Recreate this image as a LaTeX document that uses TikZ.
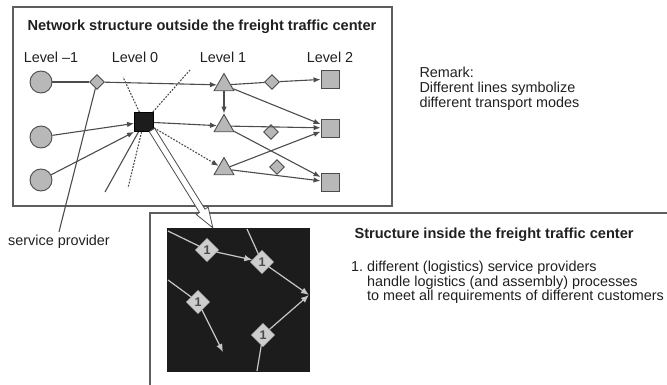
\documentclass[tikz,border=0pt]{standalone}
\usepackage{fontspec}
\setmainfont{Liberation Sans}
\usetikzlibrary{shapes.geometric,arrows.meta,calc}

\definecolor{linegray}{HTML}{4C4C4C}
\definecolor{framegray}{HTML}{5E5E5E}
\definecolor{shapefill}{HTML}{B8B8B8}
\definecolor{corefill}{HTML}{1C1C1C}
\definecolor{innerline}{HTML}{C6C6C6}
\definecolor{innerfill}{HTML}{CDCDCD}
\definecolor{textgray}{HTML}{202020}

\begin{document}
\begin{tikzpicture}[x=1pt,y=-1pt,
  every node/.style={text=textgray},
  txt/.style={font=\fontsize{14.4}{15}\selectfont},
  boldtxt/.style={font=\fontsize{14.6}{15}\selectfont\bfseries},
  frame/.style={draw=framegray,line width=1.4pt},
  circ/.style={circle,draw=linegray,fill=shapefill,line width=0.9pt,minimum size=22pt,inner sep=0pt},
  dia/.style={diamond,draw=linegray,fill=shapefill,line width=0.9pt,minimum size=15pt,inner sep=0pt},
  tri/.style={regular polygon,regular polygon sides=3,draw=linegray,fill=shapefill,line width=0.9pt,minimum size=23pt,inner sep=0pt},
  box/.style={rectangle,draw=linegray,fill=shapefill,line width=0.9pt,minimum size=18pt,inner sep=0pt},
  hub/.style={rectangle,draw=black,fill=corefill,line width=0.9pt,minimum size=19pt,inner sep=0pt},
  link/.style={draw=linegray,line width=1.1pt},
  arr/.style={link,-{Latex[length=7pt,width=5.5pt]}},
  dots/.style={draw=linegray,line width=1.1pt,dash pattern=on 1.8pt off 1.4pt},
  idia/.style={diamond,draw=innerline,fill=innerfill,line width=0.6pt,minimum size=23pt,inner sep=0pt,
               font=\fontsize{12.5}{12.5}\selectfont\bfseries,text=linegray},
  ilink/.style={draw=innerline,line width=1.2pt},
  iarr/.style={ilink,-{Latex[length=8pt,width=6.5pt]}}
]
\useasboundingbox (0,0) rectangle (667,385);

% frames
\draw[frame] (13,7) rectangle (392,206);
\draw[frame] (150,385) -- (150,213) -- (667,213);

% texts of the upper frame
\node[boldtxt] (title) at (202,27) {Network structure outside the freight traffic center};
\node[txt] (lvm1) at (51,57) {Level \textendash1};
\node[txt] (lv0) at (135,57) {Level 0};
\node[txt] (lv1) at (223,57) {Level 1};
\node[txt] (lv2) at (330,57) {Level 2};

% network nodes
\node[circ] (c1) at (41,82) {};
\node[circ] (c2) at (41,137) {};
\node[circ] (c3) at (41,180) {};
\node[dia] (d1) at (97,82) {};
\node[hub] (blk) at (144,122) {};
\node[tri] (t1) at (224,85) {};
\node[tri] (t2) at (224,126) {};
\node[tri] (t3) at (224,169) {};
\node[dia] (d2) at (272,82) {};
\node[dia] (d3) at (271,132) {};
\node[dia] (d4) at (277,167) {};
\node[box] (s1) at (330,79) {};
\node[box] (s2) at (330,128) {};
\node[box] (s3) at (330,182) {};

% free ends of the lines radiating from the hub
\coordinate (rUL) at (123,77);
\coordinate (rUR) at (190,70);
\coordinate (rDn) at (128,188);
\coordinate (rSW) at (105,192);

% connectors
\draw[link] (c1) -- (d1);
\draw[arr] (d1) -- (t1);
\draw[link] (t1) -- (d2);
\draw[arr] (d2) -- (s1);
\draw[arr] (t1) -- (s2);
\draw[arr] (t1) -- (t2);
\draw[arr] (c2) -- (blk);
\draw[arr] (c3) -- (blk.south west);
\draw[arr] (blk) -- (t2);
\draw[dots,-{Latex[length=7pt,width=5.5pt]}] (blk) -- (t3);
\draw[arr] (t2) -- (s2);
\draw[arr] (t2) -- (s3);
\draw[arr] (t3) -- (s2);
\draw[arr] (t3) -- (s3);
\draw[dots] (blk) -- (rUL);
\draw[dots] (blk) -- (rUR);
\draw[dots] (blk) -- (rDn);
\draw[link] (blk) -- (rSW);

% service provider label
\node[txt] (sp) at (59,242) {service provider};
\draw[link] (d1) -- (sp.north);

% remark
\node[txt,align=left,anchor=north west] (remark) at (416,64)
  {Remark:\\Different lines symbolize\\different transport modes};

% inside of the freight traffic center
\node[rectangle,fill=corefill,minimum width=143pt,minimum height=144pt,inner sep=0pt] (core) at (238.5,300) {};
\node[idia] (nA) at (207,250) {1};
\node[idia] (nB) at (262,262) {1};
\node[idia] (nC) at (198,302) {1};
\node[idia] (nD) at (263,335) {1};
\coordinate (p1) at (168,231);
\coordinate (p2) at (247,229);
\coordinate (p3) at (309,295);
\coordinate (p4) at (168,280);
\coordinate (p5) at (223,352);
\coordinate (p6) at (257,371);
\draw[ilink] (p1) -- (nA);
\draw[iarr] (nA) -- (nB);
\draw[ilink] (p2) -- (nB);
\draw[iarr] (nB) -- (p3);
\draw[iarr] (nD) -- (p3);
\draw[ilink] (p4) -- (nC);
\draw[iarr] (nC) -- (p5);
\draw[ilink] (p6) -- (nD);

% hollow arrow from the hub into the center
\coordinate (hs) at ($(blk.south east)+(-2,-2)$);
\coordinate (ht) at ($(core.north west)+(46,0)$);
\coordinate (hb) at ($(ht)!20pt!(hs)$);
\draw[draw=linegray,line width=0.8pt,fill=white,line join=miter]
  ($(hs)!3.2pt!90:(ht)$) -- ($(hb)!3.2pt!-90:(hs)$) -- ($(hb)!7pt!-90:(hs)$) -- (ht)
  -- ($(hb)!7pt!90:(hs)$) -- ($(hb)!3.2pt!90:(hs)$) -- ($(hs)!3.2pt!-90:(ht)$) -- cycle;

% description of the center
\node[boldtxt,anchor=west] (ctitle) at (351,235) {Structure inside the freight traffic center};
\node[txt,anchor=north west,inner sep=0pt] (clist) at (351,261) {%
  \fontsize{14.4}{14}\selectfont
  \begin{tabular}{@{}l@{\hspace{4pt}}l@{}}
  1. & different (logistics) service providers\\
     & handle logistics (and assembly) processes\\
     & to meet all requirements of different customers
  \end{tabular}};
\end{tikzpicture}
\end{document}
